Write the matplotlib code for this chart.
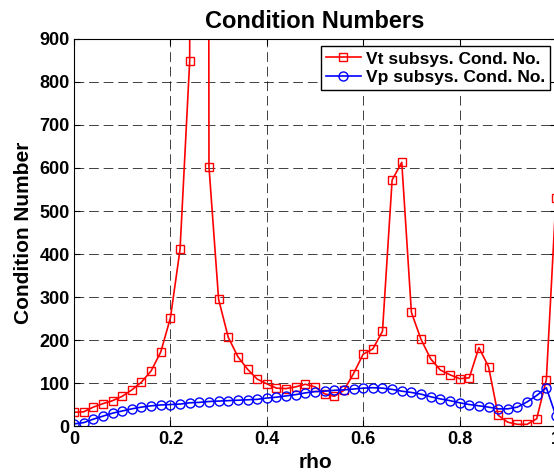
import matplotlib
matplotlib.use('Agg')
import matplotlib.pyplot as plt
import numpy as np

plt.rcParams['font.family'] = ['Liberation Sans', 'DejaVu Sans']
plt.rcParams['font.weight'] = 'bold'

# rho grid, 0 to 1 in steps of 0.02
rho = np.round(np.arange(51) * 0.02, 2)

vt_cond = [33, 34, 45, 53, 60, 70, 85, 103, 129, 173,
           252, 411, 848, 20000, 603, 295, 207, 162, 133, 110,
           99, 89, 88, 92, 98, 92, 76, 70, 84, 123,
           168, 180, 221, 572, 613, 265, 202, 157, 131, 120,
           111, 113, 183, 139, 26, 10, 5, 5, 18, 109,
           531]
vp_cond = [6, 9, 17, 24, 31, 36, 41, 45, 48, 50,
           51, 52, 55, 56, 58, 59, 60, 61, 62, 63,
           66, 68, 71, 74, 78, 81, 82, 84, 85, 87,
           89, 90, 89, 86, 82, 79, 75, 69, 64, 60,
           55, 51, 48, 45, 41, 41, 45, 57, 72, 90,
           24]

x_ticks = [0, 0.2, 0.4, 0.6, 0.8, 1]
x_ticklabels = ['0', '0.2', '0.4', '0.6', '0.8', '1']
y_ticks = list(range(0, 901, 100))

fig = plt.figure(figsize=(5.54, 4.72), dpi=100)
ax = fig.add_axes([0.1336, 0.0964, 0.87, 0.8216])

ax.plot(rho, vt_cond, color='red', marker='s', markersize=6,
        markerfacecolor='none', markeredgewidth=1.0, linewidth=1.2,
        label='Vt subsys. Cond. No.')
ax.plot(rho, vp_cond, color='blue', marker='o', markersize=6.5,
        markerfacecolor='none', markeredgewidth=1.0, linewidth=1.2,
        label='Vp subsys. Cond. No.')

ax.set_xlim(0, 1)
ax.set_ylim(0, 900)
ax.set_xticks(x_ticks)
ax.set_xticklabels(x_ticklabels)
ax.set_yticks(y_ticks)
ax.tick_params(direction='in', top=True, right=True, length=4,
               labelsize=13, pad=3)
for lab in ax.get_xticklabels() + ax.get_yticklabels():
    lab.set_fontweight('bold')

ax.grid(True, color='black', linestyle=(0, (10, 5)), linewidth=0.7, alpha=0.75)

ax.set_title('Condition Numbers', fontsize=17, fontweight='bold', pad=8)
ax.set_xlabel('rho', fontsize=15, fontweight='bold', labelpad=4)
ax.set_ylabel('Condition Number', fontsize=15, fontweight='bold', labelpad=5)

leg = ax.legend(loc='upper right', bbox_to_anchor=(0.9886, 0.9807),
                fancybox=False, edgecolor='black', framealpha=1,
                prop={'weight': 'bold', 'size': 12.5},
                borderpad=0.3, labelspacing=0.2, handlelength=2.0,
                handletextpad=0.3, borderaxespad=0)
leg.get_frame().set_linewidth(1.0)

fig.savefig('out.png', dpi=100)
